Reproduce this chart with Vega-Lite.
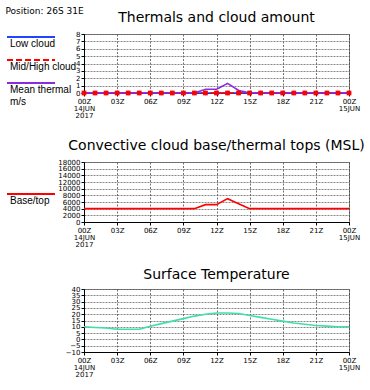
{
  "$schema": "https://vega.github.io/schema/vega-lite/v6.json",
  "padding": {"left": 5, "top": 6, "right": 5, "bottom": 2},
  "background": "white",
  "title": {"text": "Position: 26S 31E", "anchor": "start", "frame": "bounds", "fontSize": 9, "fontWeight": "normal", "font": "DejaVu Sans", "color": "black", "offset": -5},
  "datasets": {
    "met": [
      {"time": "2017-06-14T00:00:00Z", "low": 0, "midhigh": 0, "thermal": 0, "cbase": 4000, "temp": 10},
      {"time": "2017-06-14T01:00:00Z", "low": 0, "midhigh": 0, "thermal": 0, "cbase": 4000, "temp": 9.5},
      {"time": "2017-06-14T02:00:00Z", "low": 0, "midhigh": 0, "thermal": 0, "cbase": 4000, "temp": 9},
      {"time": "2017-06-14T03:00:00Z", "low": 0, "midhigh": 0, "thermal": 0, "cbase": 4000, "temp": 8},
      {"time": "2017-06-14T04:00:00Z", "low": 0, "midhigh": 0, "thermal": 0, "cbase": 4000, "temp": 8},
      {"time": "2017-06-14T05:00:00Z", "low": 0, "midhigh": 0, "thermal": 0, "cbase": 4000, "temp": 8},
      {"time": "2017-06-14T06:00:00Z", "low": 0, "midhigh": 0, "thermal": 0, "cbase": 4000, "temp": 10.5},
      {"time": "2017-06-14T07:00:00Z", "low": 0, "midhigh": 0, "thermal": 0, "cbase": 4000, "temp": 12.5},
      {"time": "2017-06-14T08:00:00Z", "low": 0, "midhigh": 0, "thermal": 0, "cbase": 4000, "temp": 14.5},
      {"time": "2017-06-14T09:00:00Z", "low": 0, "midhigh": 0, "thermal": 0, "cbase": 4000, "temp": 16.5},
      {"time": "2017-06-14T10:00:00Z", "low": 0, "midhigh": 0, "thermal": 0, "cbase": 4000, "temp": 18.5},
      {"time": "2017-06-14T11:00:00Z", "low": 0, "midhigh": 0, "thermal": 0.5, "cbase": 5200, "temp": 20},
      {"time": "2017-06-14T12:00:00Z", "low": 0, "midhigh": 0, "thermal": 0.5, "cbase": 5200, "temp": 21},
      {"time": "2017-06-14T13:00:00Z", "low": 0, "midhigh": 0, "thermal": 1.3, "cbase": 7000, "temp": 21},
      {"time": "2017-06-14T14:00:00Z", "low": 0, "midhigh": 0, "thermal": 0.35, "cbase": 5500, "temp": 20.5},
      {"time": "2017-06-14T15:00:00Z", "low": 0, "midhigh": 0, "thermal": 0, "cbase": 4000, "temp": 19},
      {"time": "2017-06-14T16:00:00Z", "low": 0, "midhigh": 0, "thermal": 0, "cbase": 4000, "temp": 17.5},
      {"time": "2017-06-14T17:00:00Z", "low": 0, "midhigh": 0, "thermal": 0, "cbase": 4000, "temp": 16},
      {"time": "2017-06-14T18:00:00Z", "low": 0, "midhigh": 0, "thermal": 0, "cbase": 4000, "temp": 14.5},
      {"time": "2017-06-14T19:00:00Z", "low": 0, "midhigh": 0, "thermal": 0, "cbase": 4000, "temp": 13},
      {"time": "2017-06-14T20:00:00Z", "low": 0, "midhigh": 0, "thermal": 0, "cbase": 4000, "temp": 12},
      {"time": "2017-06-14T21:00:00Z", "low": 0, "midhigh": 0, "thermal": 0, "cbase": 4000, "temp": 11},
      {"time": "2017-06-14T22:00:00Z", "low": 0, "midhigh": 0, "thermal": 0, "cbase": 4000, "temp": 10.5},
      {"time": "2017-06-14T23:00:00Z", "low": 0, "midhigh": 0, "thermal": 0, "cbase": 4000, "temp": 10},
      {"time": "2017-06-15T00:00:00Z", "low": 0, "midhigh": 0, "thermal": 0, "cbase": 4000, "temp": 10}
    ]
  },
  "spacing": 19,
  "resolve": {"scale": {"color": "independent", "strokeDash": "independent", "shape": "independent"}, "legend": {"color": "independent"}},
  "vconcat": [
    {
      "width": 265,
      "height": 59,
      "title": {"text": "Thermals and cloud amount"},
      "data": {"name": "met"},
      "transform": [{"fold": ["low", "midhigh", "thermal"], "as": ["series", "value"]}],
      "encoding": {
        "x": {"field": "time", "type": "temporal", "scale": {"type": "utc", "domain": [{"year": 2017, "month": 6, "date": 14, "hours": 0, "utc": true}, {"year": 2017, "month": 6, "date": 15, "hours": 0, "utc": true}]}, "axis": {"title": null}},
        "y": {"field": "value", "type": "quantitative", "scale": {"domain": [0, 8]}, "axis": {"title": null, "values": [0, 1, 2, 3, 4, 5, 6, 7, 8]}}
      },
      "layer": [
        {
          "mark": {"type": "line", "strokeWidth": 1.6},
          "encoding": {
            "color": {"field": "series", "type": "nominal", "scale": {"domain": ["low", "midhigh", "thermal"], "range": ["#2244ff", "#ff0000", "#8a2be2"]},
              "legend": {"title": null, "orient": "none", "legendX": -78, "legendY": 4, "symbolType": "M-1,-1.4L8.6,-1.4", "symbolSize": 100, "symbolStrokeWidth": 2, "labelOffset": -8, "rowPadding": 7, "labelFontSize": 10, "labelFont": "Liberation Sans", "labelLimit": 100,
                "labelExpr": "datum.label=='low' ? 'Low cloud' : datum.label=='midhigh' ? 'Mid/High cloud' : ['Mean thermal','m/s']"}},
            "strokeDash": {"field": "series", "type": "nominal", "scale": {"domain": ["low", "midhigh", "thermal"], "range": [[1, 0], [6, 3], [1, 0]]}, "legend": null},
            "order": {"field": "time"}
          }
        },
        {
          "transform": [{"filter": "datum.series != 'thermal'"}],
          "mark": {"type": "point", "filled": true, "size": 22, "opacity": 1},
          "encoding": {
            "color": {"field": "series", "type": "nominal", "legend": null},
            "shape": {"field": "series", "type": "nominal", "scale": {"domain": ["low", "midhigh"], "range": ["circle", "square"]}, "legend": null}
          }
        }
      ]
    },
    {
      "width": 265,
      "height": 60,
      "title": {"text": "Convective cloud base/thermal tops (MSL)"},
      "data": {"name": "met"},
      "mark": {"type": "line", "strokeWidth": 1.6},
      "encoding": {
        "x": {"field": "time", "type": "temporal", "scale": {"type": "utc", "domain": [{"year": 2017, "month": 6, "date": 14, "hours": 0, "utc": true}, {"year": 2017, "month": 6, "date": 15, "hours": 0, "utc": true}]}, "axis": {"title": null}},
        "y": {"field": "cbase", "type": "quantitative", "scale": {"domain": [0, 18000]}, "axis": {"title": null, "values": [0, 2000, 4000, 6000, 8000, 10000, 12000, 14000, 16000, 18000], "format": "d"}},
        "color": {"datum": "Base/top", "type": "nominal", "scale": {"domain": ["Base/top"], "range": ["#ff0000"]},
          "legend": {"title": null, "orient": "none", "legendX": -78, "legendY": 33, "symbolType": "M-1,-1.4L8.6,-1.4", "symbolSize": 100, "symbolStrokeWidth": 2, "labelOffset": -8, "labelFontSize": 10, "labelFont": "Liberation Sans"}}
      }
    },
    {
      "width": 265,
      "height": 63,
      "title": {"text": "Surface Temperature", "offset": 3},
      "data": {"name": "met"},
      "mark": {"type": "line", "strokeWidth": 1.6, "color": "#3fdfa8"},
      "encoding": {
        "x": {"field": "time", "type": "temporal", "scale": {"type": "utc", "domain": [{"year": 2017, "month": 6, "date": 14, "hours": 0, "utc": true}, {"year": 2017, "month": 6, "date": 15, "hours": 0, "utc": true}]}, "axis": {"title": null}},
        "y": {"field": "temp", "type": "quantitative", "scale": {"domain": [-10, 40]}, "axis": {"title": null, "values": [-10, -5, 0, 5, 10, 15, 20, 25, 30, 35, 40]}}
      }
    }
  ],
  "config": {
    "font": "DejaVu Sans",
    "view": {"stroke": "#888", "strokeWidth": 1},
    "title": {"fontSize": 14, "fontWeight": "normal", "font": "DejaVu Sans", "color": "black", "offset": 5},
    "legend": {"labelFont": "Liberation Sans", "labelColor": "black"},
    "line": {"interpolate": "linear"},
    "axisX": {
      "values": [
        {"year": 2017, "month": 6, "date": 14, "hours": 0, "utc": true},
        {"year": 2017, "month": 6, "date": 14, "hours": 3, "utc": true},
        {"year": 2017, "month": 6, "date": 14, "hours": 6, "utc": true},
        {"year": 2017, "month": 6, "date": 14, "hours": 9, "utc": true},
        {"year": 2017, "month": 6, "date": 14, "hours": 12, "utc": true},
        {"year": 2017, "month": 6, "date": 14, "hours": 15, "utc": true},
        {"year": 2017, "month": 6, "date": 14, "hours": 18, "utc": true},
        {"year": 2017, "month": 6, "date": 14, "hours": 21, "utc": true},
        {"year": 2017, "month": 6, "date": 15, "hours": 0, "utc": true}
      ],
      "labelExpr": "utchours(datum.value)==0 ? (utcdate(datum.value)==14 ? ['00Z','14JUN','2017'] : ['00Z','15JUN']) : utcFormat(datum.value,'%H') + 'Z'",
      "gridDash": [2, 1.5],
      "gridColor": "#333",
      "labelFlush": false,
      "labelOverlap": false
    },
    "axis": {
      "labelFontSize": 7,
      "labelColor": "black",
      "labelFont": "DejaVu Sans",
      "labelPadding": 1,
      "labelLineHeight": 7,
      "labelOverlap": false,
      "tickSize": 3,
      "tickColor": "black",
      "domainColor": "black",
      "grid": true,
      "gridDash": [2, 1],
      "gridColor": "#555",
      "gridOpacity": 1,
      "gridWidth": 0.7
    }
  }
}
